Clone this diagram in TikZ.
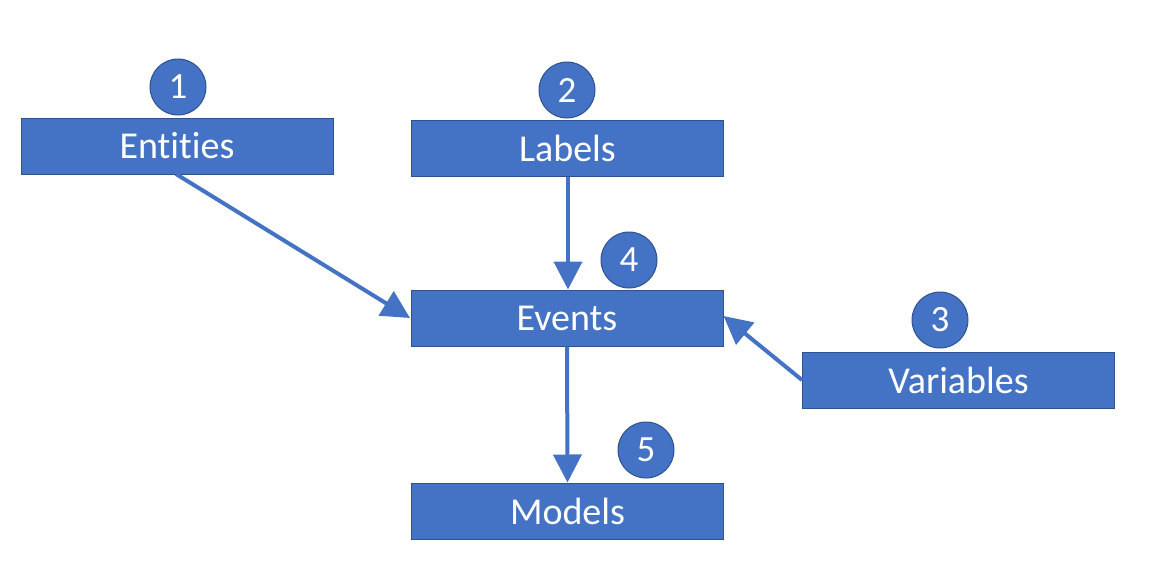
\documentclass[tikz,border=0pt]{standalone}
\usepackage{fontspec}
\setmainfont[Ligatures={NoCommon}]{Carlito}
\usetikzlibrary{arrows.meta}
\definecolor{obox}{HTML}{4472C4}
\definecolor{oedge}{HTML}{2F528F}
\begin{document}
\begin{tikzpicture}[x=1pt,y=-1pt,
  box/.style={draw=oedge,line width=1pt,fill=obox,minimum width=312pt,minimum height=56pt,inner sep=0pt,text=white,font=\fontsize{38}{40}\selectfont},
  num/.style={circle,draw=oedge,line width=1pt,fill=obox,minimum size=56pt,inner sep=0pt,text=white,font=\fontsize{37}{40}\selectfont},
  conn/.style={draw=obox,line width=4pt,-{Triangle[width=28pt,length=28pt]}}]
\useasboundingbox (0,0) rectangle (1176,574);
\node[box] (ent) at (177,146) {Entities};
\node[box] (lab) at (567.5,148) {Labels};
\node[box] (evt) at (567,318) {Events};
\node[box] (var) at (958.5,380) {Variables};
\node[box] (mod) at (567.5,511) {Models};
\node[num] (n1) at (178,87) {1};
\node[num] (n2) at (567,90) {2};
\node[num] (n4) at (629,260) {4};
\node[num] (n3) at (940,320) {3};
\node[num] (n5) at (646,450) {5};
\coordinate (entS) at (176,174);
\coordinate (evtW) at (410,318);
\draw[conn] (entS) -- (evtW);
\draw[conn] ([xshift=0.5pt]lab.south) -- ([xshift=1pt]evt.north);
\draw[conn] ([yshift=0pt]var.west) -- ([yshift=2pt]evt.east);
\draw[conn] (evt.south) -- (mod.north);
\end{tikzpicture}
\end{document}
